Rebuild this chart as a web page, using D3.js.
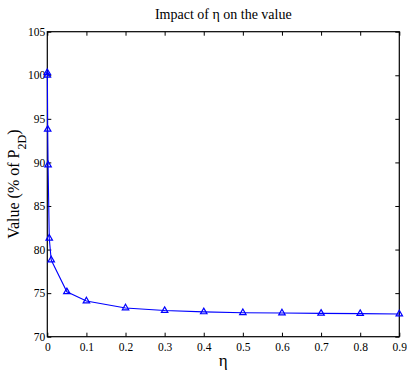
<!DOCTYPE html>
<html><head><meta charset="utf-8">
<script src="https://cdn.jsdelivr.net/npm/d3@7"></script>
<style>body{margin:0;background:#fff}svg{display:block}text{font-family:"Liberation Serif","DejaVu Serif",serif;fill:#000}</style>
</head><body>
<svg id="c" width="407" height="370"></svg>
<script>
const etaValues = [0, 0.0002, 0.001, 0.002, 0.005, 0.01, 0.05, 0.1, 0.2, 0.3, 0.4, 0.5, 0.6, 0.7, 0.8, 0.9];
const pctValues = [100.3, 100.0, 93.8, 89.7, 81.3, 78.8, 75.15, 74.1, 73.3, 73.0, 72.85, 72.75, 72.72, 72.68, 72.65, 72.6];
const xTicks = [0, 0.1, 0.2, 0.3, 0.4, 0.5, 0.6, 0.7, 0.8, 0.9];
const yTicks = [70, 75, 80, 85, 90, 95, 100, 105];
const titleText = "Impact of η on the value";

const serif = '"Liberation Serif","DejaVu Serif",serif';
const svg = d3.select("#c");
const L = 47.3, R = 399.3, T = 31.7, B = 336.7;
const x = d3.scaleLinear().domain([0, 0.9]).range([L, R]);
const y = d3.scaleLinear().domain([70, 105]).range([B, T]);
const tl = 4;

const g = svg.append("g");
const xb = g.append("g").attr("transform", `translate(0,${B})`)
  .call(d3.axisBottom(x).tickValues(xTicks).tickFormat(d => d === 0 ? "0" : d3.format(".1f")(d)).tickSizeInner(-tl).tickSizeOuter(0).tickPadding(6));
const xt = g.append("g").attr("transform", `translate(0,${T})`)
  .call(d3.axisTop(x).tickValues(xTicks).tickFormat("").tickSizeInner(-tl).tickSizeOuter(0));
const yl = g.append("g").attr("transform", `translate(${L},0)`)
  .call(d3.axisLeft(y).tickValues(yTicks).tickSizeInner(-tl).tickSizeOuter(0).tickPadding(2));
const yr = g.append("g").attr("transform", `translate(${R},0)`)
  .call(d3.axisRight(y).tickValues(yTicks).tickFormat("").tickSizeInner(-tl).tickSizeOuter(0));
[xb, xt, yl, yr].forEach(a => {
  a.attr("font-family", serif);
  a.select(".domain").remove();
  a.selectAll("line").attr("stroke", "#000");
  a.selectAll("text").style("font-family", serif).style("font-size", "11.5px").attr("fill", "#000");
});
g.append("rect").attr("x", L).attr("y", T).attr("width", R - L).attr("height", B - T)
  .attr("fill", "none").attr("stroke", "#000").attr("stroke-width", 1.2);

const data = etaValues.map((e, i) => [e, pctValues[i]]);
g.append("path").datum(data)
  .attr("d", d3.line().x(d => x(d[0])).y(d => y(d[1])))
  .attr("fill", "none").attr("stroke", "#0000ff").attr("stroke-width", 1.1);
const tri = d3.symbol().type(d3.symbolTriangle).size(18);
g.selectAll(".m").data(data).join("path").attr("class", "m")
  .attr("d", tri).attr("transform", d => `translate(${x(d[0])},${y(d[1])})`)
  .attr("fill", "none").attr("stroke", "#0000ff").attr("stroke-width", 1.2);

svg.append("text").attr("x", (L + R) / 2).attr("y", 19).attr("text-anchor", "middle")
  .style("font-family", serif).style("font-size", "14px").text(titleText);
svg.append("text").attr("x", (L + R) / 2).attr("y", 366).attr("text-anchor", "middle")
  .style("font-family", serif).style("font-size", "17px").text("η");
const yt = svg.append("text").attr("transform", `translate(19,${(T + B) / 2}) rotate(-90)`)
  .attr("text-anchor", "middle").style("font-family", serif).style("font-size", "16px");
yt.append("tspan").text("Value (% of P");
yt.append("tspan").attr("baseline-shift", "sub").style("font-size", "12px").text("2D");
yt.append("tspan").text(")");
</script>
</body></html>
